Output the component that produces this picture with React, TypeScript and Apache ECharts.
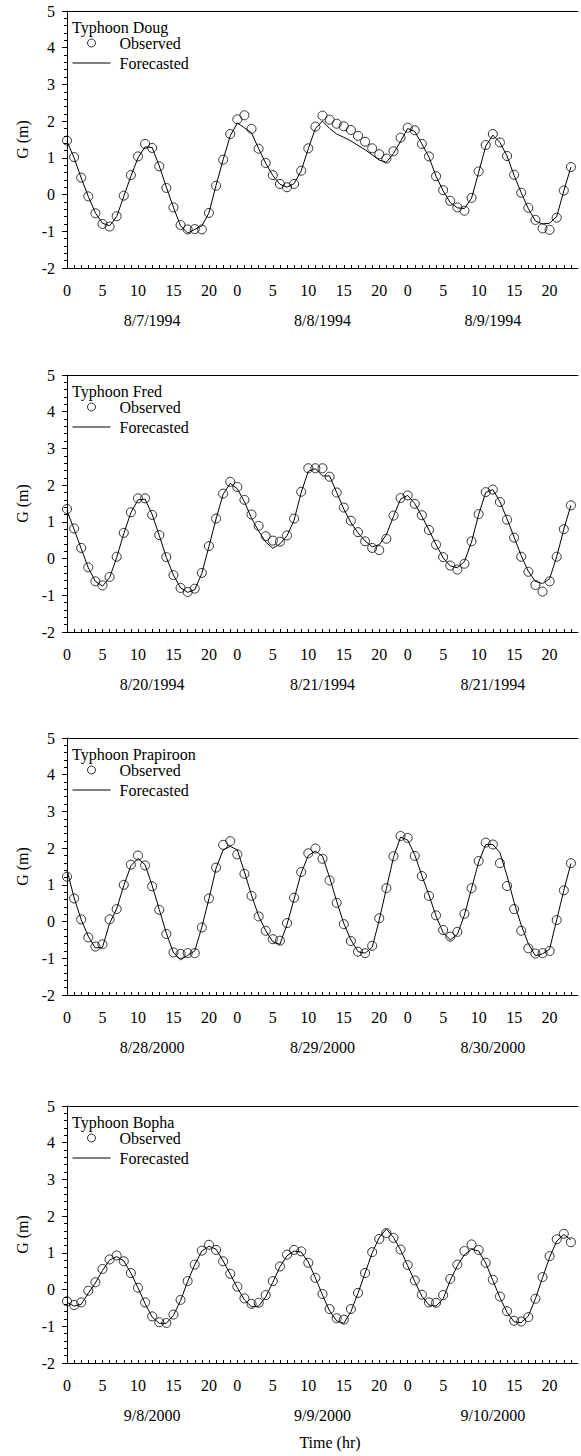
import React, { useEffect, useRef } from "react";
import * as echarts from "echarts";

const FONT = "Liberation Serif";

const TITLES = ["Typhoon Doug", "Typhoon Fred", "Typhoon Prapiroon", "Typhoon Bopha"];

const DATES = [
  ["8/7/1994", "8/8/1994", "8/9/1994"],
  ["8/20/1994", "8/21/1994", "8/21/1994"],
  ["8/28/2000", "8/29/2000", "8/30/2000"],
  ["9/8/2000", "9/9/2000", "9/10/2000"],
];

const DAY_TICKS = [0, 5, 10, 15, 20];
const DATE_POS = [12, 36, 60];

const DOUG_OBS = [1.47, 1.02, 0.46, -0.05, -0.51, -0.8, -0.87, -0.59, -0.03, 0.53, 1.04, 1.38, 1.27, 0.77, 0.18, -0.35, -0.83, -0.95, -0.94, -0.95, -0.5, 0.24, 0.95, 1.65, 2.05, 2.16, 1.79, 1.25, 0.86, 0.53, 0.29, 0.2, 0.29, 0.65, 1.26, 1.85, 2.15, 2.04, 1.93, 1.86, 1.76, 1.6, 1.44, 1.26, 1.1, 0.98, 1.18, 1.55, 1.82, 1.75, 1.38, 1.04, 0.5, 0.12, -0.17, -0.35, -0.44, -0.09, 0.63, 1.35, 1.65, 1.42, 1.05, 0.54, 0.05, -0.36, -0.69, -0.92, -0.96, -0.63, 0.11, 0.75];
const DOUG_FC = [1.45, 1.0, 0.45, -0.05, -0.5, -0.78, -0.85, -0.6, -0.05, 0.5, 1.0, 1.3, 1.28, 0.78, 0.2, -0.35, -0.85, -1.05, -0.95, -0.85, -0.5, 0.25, 0.95, 1.6, 1.95, 1.82, 1.68, 1.25, 0.85, 0.52, 0.28, 0.2, 0.3, 0.65, 1.25, 1.8, 2.0, 1.8, 1.65, 1.56, 1.46, 1.34, 1.22, 1.08, 0.94, 0.88, 1.12, 1.45, 1.8, 1.72, 1.38, 1.02, 0.5, 0.1, -0.22, -0.36, -0.38, -0.1, 0.6, 1.32, 1.62, 1.42, 1.05, 0.52, 0.05, -0.38, -0.72, -0.8, -0.78, -0.6, 0.1, 0.75];

const FRED_OBS = [1.35, 0.82, 0.29, -0.24, -0.62, -0.73, -0.5, 0.05, 0.7, 1.26, 1.64, 1.64, 1.19, 0.64, 0.04, -0.45, -0.8, -0.91, -0.82, -0.39, 0.34, 1.09, 1.77, 2.09, 1.95, 1.6, 1.2, 0.89, 0.61, 0.49, 0.46, 0.63, 1.09, 1.82, 2.46, 2.46, 2.46, 2.23, 1.8, 1.39, 1.03, 0.72, 0.47, 0.29, 0.23, 0.54, 1.17, 1.65, 1.72, 1.49, 1.18, 0.78, 0.38, 0.04, -0.19, -0.3, -0.14, 0.47, 1.21, 1.81, 1.88, 1.54, 1.06, 0.57, 0.05, -0.36, -0.72, -0.9, -0.62, 0.05, 0.8, 1.45];
const FRED_FC = [1.3, 0.8, 0.27, -0.25, -0.62, -0.75, -0.52, 0.03, 0.68, 1.25, 1.6, 1.62, 1.2, 0.63, 0.03, -0.45, -0.8, -0.92, -0.85, -0.4, 0.33, 1.08, 1.75, 2.05, 1.9, 1.55, 1.1, 0.75, 0.45, 0.28, 0.4, 0.62, 1.05, 1.8, 2.38, 2.45, 2.25, 2.25, 1.8, 1.35, 0.98, 0.7, 0.48, 0.32, 0.38, 0.65, 1.15, 1.62, 1.72, 1.5, 1.15, 0.78, 0.38, 0.02, -0.2, -0.25, -0.08, 0.45, 1.2, 1.8, 1.88, 1.55, 1.08, 0.58, 0.08, -0.35, -0.62, -0.68, -0.55, 0.05, 0.8, 1.45];

const PRAP_OBS = [1.22, 0.63, 0.06, -0.43, -0.68, -0.62, 0.06, 0.34, 1.0, 1.55, 1.8, 1.53, 0.96, 0.32, -0.34, -0.84, -0.88, -0.86, -0.86, -0.16, 0.63, 1.47, 2.09, 2.19, 1.83, 1.3, 0.7, 0.14, -0.25, -0.48, -0.52, -0.04, 0.65, 1.35, 1.86, 1.99, 1.71, 1.12, 0.51, -0.07, -0.53, -0.82, -0.86, -0.66, 0.09, 0.91, 1.78, 2.33, 2.28, 1.79, 1.24, 0.7, 0.17, -0.23, -0.41, -0.28, 0.21, 0.91, 1.65, 2.15, 2.1, 1.59, 0.97, 0.34, -0.25, -0.73, -0.87, -0.86, -0.8, 0.04, 0.85, 1.59];
const PRAP_FC = [1.4, 0.65, 0.05, -0.4, -0.72, -0.7, -0.05, 0.35, 0.98, 1.52, 1.72, 1.55, 0.98, 0.33, -0.32, -0.85, -1.04, -0.92, -0.8, -0.15, 0.62, 1.45, 1.95, 2.05, 1.95, 1.35, 0.72, 0.15, -0.25, -0.55, -0.62, -0.08, 0.62, 1.32, 1.8, 1.92, 1.78, 1.2, 0.55, -0.05, -0.5, -0.82, -0.86, -0.7, 0.05, 0.9, 1.75, 2.3, 2.22, 1.82, 1.25, 0.72, 0.15, -0.3, -0.5, -0.35, 0.18, 0.9, 1.62, 2.1, 2.1, 1.88, 1.25, 0.52, -0.1, -0.6, -0.93, -0.88, -0.75, 0.05, 0.85, 1.58];

const BOPHA_OBS = [-0.32, -0.42, -0.35, -0.03, 0.2, 0.56, 0.82, 0.93, 0.77, 0.45, 0.05, -0.35, -0.73, -0.89, -0.91, -0.68, -0.28, 0.23, 0.68, 1.06, 1.22, 1.08, 0.77, 0.43, 0.08, -0.24, -0.39, -0.36, -0.15, 0.23, 0.63, 0.95, 1.08, 1.04, 0.73, 0.32, -0.12, -0.53, -0.78, -0.82, -0.53, -0.09, 0.45, 1.02, 1.38, 1.54, 1.41, 1.09, 0.67, 0.25, -0.14, -0.35, -0.36, -0.15, 0.29, 0.68, 1.05, 1.23, 1.08, 0.73, 0.27, -0.19, -0.59, -0.85, -0.87, -0.75, -0.25, 0.34, 0.91, 1.37, 1.52, 1.29];
const BOPHA_FC = [-0.35, -0.45, -0.4, -0.1, 0.18, 0.52, 0.8, 0.9, 0.78, 0.45, 0.05, -0.38, -0.75, -0.92, -0.92, -0.7, -0.3, 0.22, 0.68, 1.05, 1.18, 1.1, 0.78, 0.42, 0.05, -0.28, -0.47, -0.45, -0.2, 0.2, 0.62, 0.92, 1.05, 1.02, 0.75, 0.32, -0.15, -0.58, -0.85, -0.92, -0.6, -0.1, 0.45, 1.0, 1.42, 1.65, 1.42, 1.08, 0.65, 0.22, -0.18, -0.42, -0.45, -0.25, 0.25, 0.65, 0.95, 1.1, 1.05, 0.72, 0.25, -0.22, -0.62, -0.88, -0.9, -0.72, -0.25, 0.32, 0.88, 1.32, 1.5, 1.35];

const OBSERVED = [DOUG_OBS, FRED_OBS, PRAP_OBS, BOPHA_OBS];
const FORECAST = [DOUG_FC, FRED_FC, PRAP_FC, BOPHA_FC];

const GRID_TOPS = [11, 375, 738, 1106];
const GRID_H = 257;
const GRID_LEFT = 67;
const GRID_W = 514;

const txt = { fontFamily: FONT, fontSize: 16, color: "#000", fontWeight: "normal" };
const black = { color: "#000", width: 1 };

function buildOption() {
  const grid: any[] = [];
  const xAxis: any[] = [];
  const yAxis: any[] = [];
  const series: any[] = [];
  const legend: any[] = [];
  const title: any[] = [];

  for (let i = 0; i < 4; i++) {
    const top = GRID_TOPS[i];
    grid.push({ left: GRID_LEFT, top, width: GRID_W, height: GRID_H, containLabel: false });
    xAxis.push({
      gridIndex: i,
      type: "value",
      min: 0,
      max: 72,
      interval: 1,
      position: "bottom",
      axisLine: { show: true, onZero: false, lineStyle: black },
      axisTick: { show: true, inside: true, length: 3, lineStyle: black },
      splitLine: { show: false },
      axisLabel: {
        ...txt,
        margin: 14,
        showMaxLabel: false,
        formatter: (v: number) => {
          if (v >= 72) return "";
          const h = v % 24;
          return DAY_TICKS.indexOf(h) >= 0 ? String(h) : "";
        },
      },
    });
    xAxis.push({
      gridIndex: i,
      type: "value",
      min: 0,
      max: 72,
      interval: 12,
      position: "bottom",
      offset: 30,
      axisLine: { show: false },
      axisTick: { show: false },
      splitLine: { show: false },
      axisLabel: {
        ...txt,
        margin: 14,
        formatter: (v: number) => {
          const k = DATE_POS.indexOf(v);
          return k >= 0 ? DATES[i][k] : "";
        },
      },
    });
    xAxis.push({
      gridIndex: i,
      type: "value",
      min: 0,
      max: 72,
      position: "top",
      axisLine: { show: true, onZero: false, lineStyle: black },
      axisTick: { show: false },
      axisLabel: { show: false },
      splitLine: { show: false },
    });
    yAxis.push({
      gridIndex: i,
      type: "value",
      min: -2,
      max: 5,
      interval: 1,
      name: "G (m)",
      nameLocation: "middle",
      nameGap: 37,
      nameTextStyle: { ...txt },
      axisLine: { show: true, onZero: false, lineStyle: black },
      axisTick: { show: true, length: 5, lineStyle: black },
      minorTick: { show: true, splitNumber: 5, length: 3, lineStyle: black },
      splitLine: { show: false },
      minorSplitLine: { show: false },
      axisLabel: { ...txt, margin: 12 },
    });
    series.push({
      type: "line",
      name: "Forecasted",
      xAxisIndex: i * 3,
      yAxisIndex: i,
      data: FORECAST[i].map((v, h) => [h, v]),
      symbol: "none",
      lineStyle: { color: "#000", width: 1 },
      itemStyle: { color: "rgba(0,0,0,0)", borderWidth: 0 },
      z: 2,
    });
    series.push({
      type: "scatter",
      name: "Observed",
      xAxisIndex: i * 3,
      yAxisIndex: i,
      data: OBSERVED[i].map((v, h) => [h, v]),
      symbol: "circle",
      symbolSize: 9,
      itemStyle: { color: "rgba(255,255,255,0)", borderColor: "#000", borderWidth: 1 },
      z: 3,
    });
    legend.push({
      left: 72,
      top: top + 24,
      orient: "vertical",
      padding: 0,
      itemWidth: 38,
      itemHeight: 8,
      itemGap: 4,
      selectedMode: false,
      data: [
        { name: "Observed", itemStyle: { color: "rgba(255,255,255,0)", borderColor: "#000", borderWidth: 1 } },
        { name: "Forecasted", itemStyle: { color: "rgba(0,0,0,0)", borderWidth: 0, opacity: 0 }, lineStyle: { color: "#000", width: 1 } },
      ],
      textStyle: { ...txt, lineHeight: 16, padding: [0, 0, 0, 4] },
    });
    title.push({
      text: TITLES[i],
      left: 72,
      top: top + 8,
      padding: 0,
      textStyle: { ...txt, lineHeight: 16 },
    });
  }

  return {
    animation: false,
    backgroundColor: "#fff",
    textStyle: { fontFamily: FONT },
    grid,
    xAxis,
    yAxis,
    series,
    legend,
    title,
    graphic: [
      {
        type: "text",
        x: 330,
        y: 1442,
        style: {
          text: "Time (hr)",
          fontFamily: FONT,
          fontSize: 16,
          fill: "#000",
          align: "center",
          verticalAlign: "middle",
        },
      },
    ],
  };
}

export default function App() {
  const ref = useRef<HTMLDivElement>(null);
  useEffect(() => {
    if (!ref.current) return;
    const chart = echarts.init(ref.current, null, { renderer: "svg" });
    chart.setOption(buildOption() as any);
    return () => chart.dispose();
  }, []);
  return (
    <div
      ref={ref}
      style={{ position: "absolute", left: 0, top: 0, width: 581, height: 1456, background: "#fff" }}
    />
  );
}
